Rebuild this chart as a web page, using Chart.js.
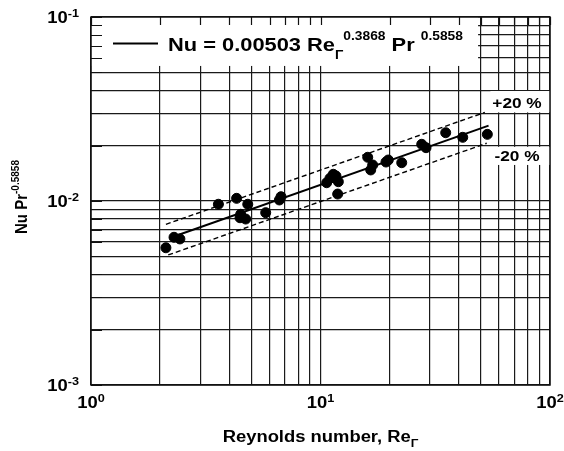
<!DOCTYPE html>
<html>
<head>
<meta charset="utf-8">
<script src="https://cdn.jsdelivr.net/npm/chart.js@4/dist/chart.umd.min.js"></script>
<style>
  html, body { margin: 0; padding: 0; background: #fff; }
  #wrap { width: 564px; height: 451px; }
</style>
</head>
<body>
<div id="wrap"><canvas id="canvas"></canvas></div>
<script>
// measured points, Re_G vs Nu Pr^-0.5858
var reX = [2.12, 2.30, 2.44, 3.59, 4.31, 4.82, 4.49, 4.46, 4.72, 5.77, 6.62, 6.73,
           10.64, 11.00, 11.37, 11.96, 11.68, 11.88, 16.06, 16.55, 16.88, 19.74, 19.29,
           22.59, 27.61, 28.83, 35.12, 41.66, 53.33];
var nuY = [0.00557, 0.00635, 0.00622, 0.00960, 0.01034, 0.00960, 0.00847, 0.00811, 0.00798, 0.00864, 0.01013, 0.01055,
           0.01257, 0.01329, 0.01397, 0.01273, 0.01368, 0.01091, 0.01728, 0.01475, 0.01569, 0.01670, 0.01629,
           0.01615, 0.02033, 0.01949, 0.02350, 0.02219, 0.02303];

// correlation line and +/-20 % band
var fitX = [2.2, 54];
var fitY = [0.00629, 0.0257];
var upX = [2.12, 52];
var upY = [0.00747, 0.0303];
var lowX = [2.17, 53];
var lowY = [0.00509, 0.0206];

// decade labels
var xLabelVal = [1, 10, 100];
var xLabelExp = ['0', '1', '2'];
var yLabelVal = [0.1, 0.01, 0.001];
var yLabelExp = ['-1', '-2', '-3'];

var FONT = '"Liberation Sans", Arial, sans-serif';
var SX = 1.15;

function pts(xs, ys) {
    return xs.map(function(x, i){ return {x: x, y: ys[i]}; });
}

function logTicks(scale) {
    var t = [];
    var e0 = Math.floor(Math.log10(scale.min) + 1e-9);
    var e1 = Math.round(Math.log10(scale.max));
    for (var e = e0; e < e1; e++) {
        for (var m = 1; m < 10; m++) t.push({value: m * Math.pow(10, e)});
    }
    t.push({value: Math.pow(10, e1)});
    scale.ticks = t;
}

/**
 * text in pieces: [text, size, dy]
 */
function rich(ctx, parts, x, y, align) {
    var w = 0;
    parts.forEach(function(p){
        ctx.font = 'bold ' + p[1] + 'px ' + FONT;
        w += ctx.measureText(p[0]).width;
    });
    var x0 = align === 'center' ? x - w * SX / 2 : (align === 'right' ? x - w * SX : x);
    ctx.save();
    ctx.translate(x0, y);
    ctx.scale(SX, 1);
    ctx.fillStyle = '#000';
    ctx.textBaseline = 'alphabetic';
    ctx.textAlign = 'left';
    var cx = 0;
    parts.forEach(function(p){
        ctx.font = 'bold ' + p[1] + 'px ' + FONT;
        ctx.fillText(p[0], cx, p[2] || 0);
        cx += ctx.measureText(p[0]).width;
    });
    ctx.restore();
}

function whiteBox(ctx, xs, ys, x1, x2, y1, y2) {
    var a = xs.getPixelForValue(x1), b = xs.getPixelForValue(x2);
    var c = ys.getPixelForValue(y1), d = ys.getPixelForValue(y2);
    ctx.fillStyle = '#fff';
    ctx.fillRect(a, c, b - a, d - c);
}

var decor = {
    id: 'decor',
    beforeDatasetsDraw: function(chart) {
        var ctx = chart.ctx, xs = chart.scales.x, ys = chart.scales.y, ca = chart.chartArea;
        ctx.save();
        // legend box and band labels cover the grid
        whiteBox(ctx, xs, ys, 1, 48.6, 0.1, 0.0542);
        whiteBox(ctx, xs, ys, 55, 100, 0.0396, 0.0303);
        whiteBox(ctx, xs, ys, 55, 100, 0.0197, 0.0157);
        // inner ticks
        ctx.strokeStyle = '#111';
        ctx.lineWidth = 1.2;
        ctx.beginPath();
        ys.ticks.forEach(function(t){
            var py = Math.round(ys.getPixelForValue(t.value)) + 0.5;
            ctx.moveTo(ca.left, py); ctx.lineTo(ca.left + 11, py);
        });
        xs.ticks.forEach(function(t){
            var px = Math.round(xs.getPixelForValue(t.value)) + 0.5;
            ctx.moveTo(px, ca.top); ctx.lineTo(px, ca.top + 8);
        });
        ctx.stroke();
        // frame
        ctx.lineWidth = 1.5;
        ctx.strokeRect(ca.left, ca.top, ca.right - ca.left, ca.bottom - ca.top);
        ctx.restore();
    },
    afterDraw: function(chart) {
        var ctx = chart.ctx, xs = chart.scales.x, ys = chart.scales.y, ca = chart.chartArea;
        // legend
        ctx.save();
        ctx.strokeStyle = '#000';
        ctx.lineWidth = 2;
        ctx.beginPath();
        ctx.moveTo(113, 43.5); ctx.lineTo(158, 43.5);
        ctx.stroke();
        ctx.restore();
        rich(ctx, [['Nu = 0.00503 Re', 19], ['\u0393', 12, 8], ['0.3868', 12, -11],
                   [' Pr ', 19], ['0.5858', 12, -11]], 168, 51, 'left');
        // band labels
        rich(ctx, [['+20 %', 15]], 517, 108, 'center');
        rich(ctx, [['-20 %', 15]], 517, 161, 'center');
        // y decade labels
        yLabelVal.forEach(function(v, i){
            var py = ys.getPixelForValue(v);
            rich(ctx, [['10', 16], [yLabelExp[i], 11, -6]], 79, py + 6, 'right');
        });
        // x decade labels
        xLabelVal.forEach(function(v, i){
            var px = xs.getPixelForValue(v);
            rich(ctx, [['10', 16], [xLabelExp[i], 11, -6]], px, 408, 'center');
        });
        // axis titles
        rich(ctx, [['Reynolds number, Re', 16], ['\u0393', 11, 5]], (ca.left + ca.right) / 2, 442, 'center');
        ctx.save();
        ctx.translate(27, 197);
        ctx.rotate(-Math.PI / 2);
        ctx.scale(1, 1.15);
        ctx.fillStyle = '#000';
        ctx.textBaseline = 'alphabetic';
        ctx.font = 'bold 15px ' + FONT;
        var w1 = ctx.measureText('Nu Pr').width;
        ctx.font = 'bold 10px ' + FONT;
        var w2 = ctx.measureText('-0.5858').width;
        var sx = -(w1 + w2) / 2;
        ctx.font = 'bold 15px ' + FONT;
        ctx.fillText('Nu Pr', sx, 0);
        ctx.font = 'bold 10px ' + FONT;
        ctx.fillText('-0.5858', sx + w1, -7);
        ctx.restore();
    }
};

var axisOpts = {
    type: 'logarithmic',
    afterBuildTicks: logTicks,
    ticks: { display: false },
    grid: { color: '#1a1a1a', lineWidth: 1.2, drawTicks: false },
    border: { display: false },
    title: { display: false }
};

var config = {
    type: 'scatter',
    data: {
        datasets: [{
            data: pts(reX, nuY),
            backgroundColor: '#000',
            borderColor: '#000',
            pointRadius: 5,
            pointHoverRadius: 5
        }, {
            data: pts(fitX, fitY),
            showLine: true,
            borderColor: '#000',
            borderWidth: 2,
            pointRadius: 0
        }, {
            data: pts(upX, upY),
            showLine: true,
            borderColor: '#000',
            borderWidth: 1.4,
            borderDash: [5, 3],
            pointRadius: 0
        }, {
            data: pts(lowX, lowY),
            showLine: true,
            borderColor: '#000',
            borderWidth: 1.4,
            borderDash: [5, 3],
            pointRadius: 0
        }]
    },
    options: {
        responsive: false,
        animation: false,
        layout: { padding: { left: 91, right: 14, top: 17, bottom: 66 } },
        plugins: { legend: { display: false }, tooltip: { enabled: false }, title: { display: false } },
        scales: {
            x: Object.assign({}, axisOpts, { min: 1, max: 100 }),
            y: Object.assign({}, axisOpts, { min: 0.001, max: 0.1 })
        }
    },
    plugins: [decor]
};

var cv = document.getElementById('canvas');
cv.width = 564; cv.height = 451;
cv.style.width = '564px'; cv.style.height = '451px';
window.myChart = new Chart(cv.getContext('2d'), config);
</script>
</body>
</html>
